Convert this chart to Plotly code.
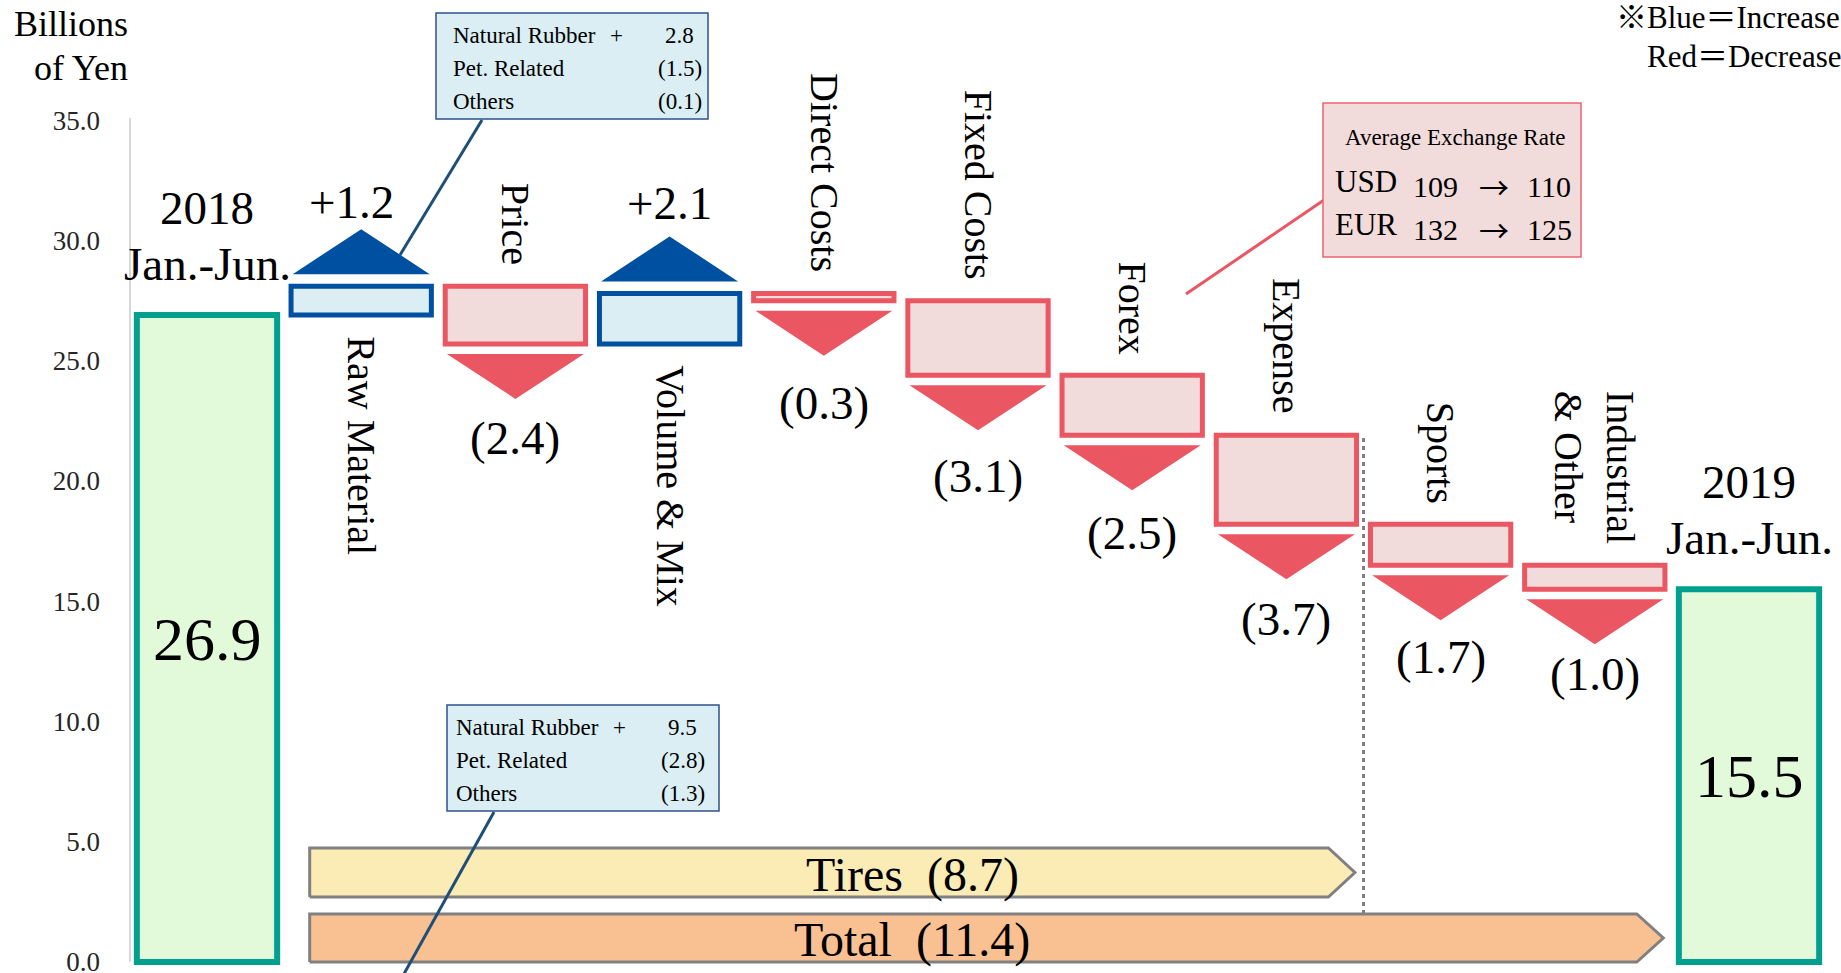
import plotly.graph_objects as go

# ---- Operating income bridge, billions of yen ----
period_years = ["2018", "2019"]
period_span = "Jan.-Jun."
period_values = [26.9, 15.5]

factor_names = ["Raw Material", "Price", "Volume & Mix", "Direct Costs",
                "Fixed Costs", "Forex", "Expense", "Sports", "Industrial<br>& Other"]
factor_changes = [1.2, -2.4, 2.1, -0.3, -3.1, -2.5, -3.7, -1.7, -1.0]

segment_names = ["Tires", "Total"]
segment_values = [-8.7, -11.4]
segment_last_factor = ["Expense", "Industrial<br>& Other"]

y_ticks = [0, 5, 10, 15, 20, 25, 30, 35]

material_items = ["Natural Rubber", "Pet. Related", "Others"]
material_half = [2.8, -1.5, -0.1]
material_other = [9.5, -2.8, -1.3]

fx_currencies = ["USD", "EUR"]
fx_2018 = [109, 132]
fx_2019 = [110, 125]

# ---- canvas geometry ----
W, H = 1841, 973
X_ORIGIN, X_STEP = 207.0, 154.2    # pixel of category 0, pixels per category
Y_ORIGIN, Y_STEP = 962.0, 24.05    # pixel of value 0, pixels per billion yen

# distance (px) between each arrow tip and its value label, and sideways nudge
value_label_gap = [27, 39, 33, 47, 46, 43, 40, 37, 30]
value_label_dx = [-10, 0, 0, 0, 0, 0, 0, 0, 0]


def dx(px):
    return px / X_STEP


def dy(px):
    return px / Y_STEP


def at_x(px):
    return (px - X_ORIGIN) / X_STEP


def at_y(py):
    return (Y_ORIGIN - py) / Y_STEP


SERIF = "Liberation Serif, 'Times New Roman', Times, serif"
NOTE_FONT = "Liberation Serif, 'Noto Sans CJK JP', serif"
CJK_FONT = "'Noto Sans CJK JP', sans-serif"
BLUE_LINE, BLUE_FILL = "#0050A2", "#DAEEF3"
RED_LINE, RED_FILL = "#EA5662", "#F2DCDB"
GREEN_LINE, GREEN_FILL = "#00A08F", "#E2FADA"
GREY = "#808080"
BAR_W = 0.91

# running level at the start of each factor
bases = []
level = period_values[0]
for c in factor_changes:
    bases.append(round(level, 1))
    level += c
factor_x = list(range(1, len(factor_names) + 1))
end_x = len(factor_names) + 1

fig = go.Figure()
annotations = []
shapes = []


def text_at(x, y, text, size, xanchor="center", yanchor="middle", angle=0,
            align="center", color="black", family=SERIF):
    annotations.append(dict(x=x, y=y, xref="x", yref="y", text=text, showarrow=False,
                            xanchor=xanchor, yanchor=yanchor, textangle=angle,
                            align=align, borderpad=0,
                            font=dict(family=family, size=size, color=color)))


# period totals
fig.add_trace(go.Bar(
    x=[0, end_x], y=period_values, width=BAR_W,
    marker=dict(color=GREEN_FILL, line=dict(color=GREEN_LINE, width=6)),
    hoverinfo="skip"))

# factor boxes
fig.add_trace(go.Bar(
    x=factor_x, y=factor_changes, base=bases, width=BAR_W,
    marker=dict(color=[BLUE_FILL if c > 0 else RED_FILL for c in factor_changes],
                line=dict(color=[BLUE_LINE if c > 0 else RED_LINE for c in factor_changes],
                          width=5)),
    hoverinfo="skip"))

# direction triangles
half = dx(68.5)
up_x, up_y, dn_x, dn_y = [], [], [], []
for k, (xk, b, c, name) in enumerate(zip(factor_x, bases, factor_changes, factor_names)):
    lx = xk + dx(value_label_dx[k])
    gap = dy(value_label_gap[k])
    if c > 0:
        tri_base = b + c + dy(12)
        apex = tri_base + dy(45)
        up_x += [xk - half, xk + half, xk, xk - half, None]
        up_y += [tri_base, tri_base, apex, tri_base, None]
        text_at(lx, apex + gap, f"+{c:.1f}", 47)
        text_at(xk, b - dy(20), name, 40, yanchor="top", angle=90, align="left")
    else:
        tri_base = b + c - dy(10)
        apex = tri_base - dy(45)
        dn_x += [xk - half, xk + half, xk, xk - half, None]
        dn_y += [tri_base, tri_base, apex, tri_base, None]
        text_at(lx, apex - gap, f"({-c:.1f})", 47)
        text_at(xk, b + dy(20), name, 40, yanchor="bottom", angle=90, align="left")

for tx, ty, col in [(up_x, up_y, BLUE_LINE), (dn_x, dn_y, RED_LINE)]:
    fig.add_trace(go.Scatter(x=tx, y=ty, mode="lines", fill="toself", fillcolor=col,
                             line=dict(width=0, color=col), hoverinfo="skip"))

# period labels
for xk, year, v in zip([0, end_x], period_years, period_values):
    text_at(xk, v + dy(107), year, 47)
    text_at(xk, v + dy(51), period_span, 47)
    text_at(xk, v / 2, f"{v:.1f}", 62)

# segment arrows (Tires / Total)
band_h = [dy(49), dy(48)]
band_bottom = [dy(48) + dy(17), 0.0]
seg_fill = ["#FBEBB5", "#F9C191"]
for name, val, last, h, y0, col in zip(segment_names, segment_values, segment_last_factor,
                                       band_h, band_bottom, seg_fill):
    last_x = factor_names.index(last) + 1
    left = 1 - dx(51.5)
    tip = last_x + dx(68.5)
    neck = tip - dx(26.5)
    y1 = y0 + h
    ym = (y0 + y1) / 2
    fig.add_trace(go.Scatter(
        x=[left, neck, tip, neck, left, left], y=[y0, y0, ym, y1, y1, y0],
        mode="lines", fill="toself", fillcolor=col,
        line=dict(color=GREY, width=3), hoverinfo="skip"))
    text_at(at_x(912), ym - dy(2), f"{name}\u00a0\u00a0({-val:.1f})", 48)

# Tires / other businesses divider
tires_last = factor_names.index(segment_last_factor[0]) + 1
shapes.append(dict(type="line", xref="x", yref="y", x0=tires_last + 0.5, x1=tires_last + 0.5,
                   y0=band_bottom[1] + band_h[1], y1=bases[tires_last - 1],
                   line=dict(color=GREY, width=3, dash="4px,4px")))

# value axis line
shapes.append(dict(type="line", xref="x", yref="y", x0=at_x(130), x1=at_x(130),
                   y0=0, y1=at_y(118), line=dict(color="#D9D9D9", width=2)))

# axis caption
text_at(at_x(129), at_y(24), "Billions", 36, xanchor="right")
text_at(at_x(129), at_y(68), "of Yen", 36, xanchor="right")


# raw material breakdown callouts
def callout(left, top, values, text_dx, line_from, line_to):
    shapes.append(dict(type="line", xref="x", yref="y",
                       x0=at_x(line_from[0]), y0=at_y(line_from[1]),
                       x1=at_x(line_to[0]), y1=at_y(line_to[1]),
                       line=dict(color="#1F4E79", width=3)))
    shapes.append(dict(type="rect", xref="x", yref="y",
                       x0=at_x(left), x1=at_x(left + 272), y0=at_y(top), y1=at_y(top + 106),
                       fillcolor=BLUE_FILL, line=dict(color="#2F528F", width=1.5)))
    for r, (item, v) in enumerate(zip(material_items, values)):
        yc = at_y(top + 22 + 33 * r)
        text_at(at_x(left + 16 + text_dx), yc, item, 23, xanchor="left")
        if v > 0:
            text_at(at_x(left + 180 + text_dx), yc, "+", 23)
            text_at(at_x(left + 259 + text_dx), yc, f"{v:.1f}", 23, xanchor="right")
        else:
            text_at(at_x(left + 267 + text_dx), yc, f"({-v:.1f})", 23, xanchor="right")


callout(436, 13, material_half, 0, (482, 120), (400, 255))
callout(447, 705, material_other, -8, (494, 812), (395, 990))

# exchange rate callout
shapes.append(dict(type="line", xref="x", yref="y", x0=at_x(1186), y0=at_y(294),
                   x1=at_x(1324), y1=at_y(200), line=dict(color=RED_LINE, width=3)))
shapes.append(dict(type="rect", xref="x", yref="y", x0=at_x(1323), x1=at_x(1581),
                   y0=at_y(103), y1=at_y(257), fillcolor=RED_FILL,
                   line=dict(color="#EB6470", width=1.5)))
text_at(at_x(1344), at_y(137), "Average Exchange Rate", 23, xanchor="left")
for r, (cur, a, b) in enumerate(zip(fx_currencies, fx_2018, fx_2019)):
    yc = 181.5 + 43 * r
    text_at(at_x(1334), at_y(yc), cur, 31, xanchor="left")
    text_at(at_x(1435.5), at_y(yc + 5), str(a), 30)
    text_at(at_x(1494), at_y(yc + 4), "\u2192", 30, family=CJK_FONT)
    text_at(at_x(1549), at_y(yc + 5), str(b), 30)

# colour key
text_at(at_x(1615), at_y(17), "\u203bBlue\uff1dIncrease", 31, xanchor="left", family=NOTE_FONT)
text_at(at_x(1646), at_y(56), "Red\uff1dDecrease", 31, xanchor="left", family=NOTE_FONT)

fig.update_layout(
    width=W, height=H,
    margin=dict(l=0, r=0, t=0, b=0, autoexpand=False),
    paper_bgcolor="white", plot_bgcolor="white",
    barmode="overlay", showlegend=False,
    font=dict(family=SERIF, color="black"),
    xaxis=dict(range=[at_x(0), at_x(W)], visible=False, fixedrange=True,
               automargin=False),
    yaxis=dict(range=[at_y(H), at_y(0)], anchor="free", position=130 / W,
               tickvals=y_ticks, ticktext=[f"{v:.1f}" for v in y_ticks],
               showgrid=False, zeroline=False, showline=False, ticks="",
               ticklabelstandoff=30, ticklabeloverflow="allow", fixedrange=True,
               automargin=False,
               tickfont=dict(family=SERIF, size=27, color="#262626")),
    shapes=shapes,
    annotations=annotations,
)

fig.write_html("out.html", post_script="document.body.style.margin='0';")
